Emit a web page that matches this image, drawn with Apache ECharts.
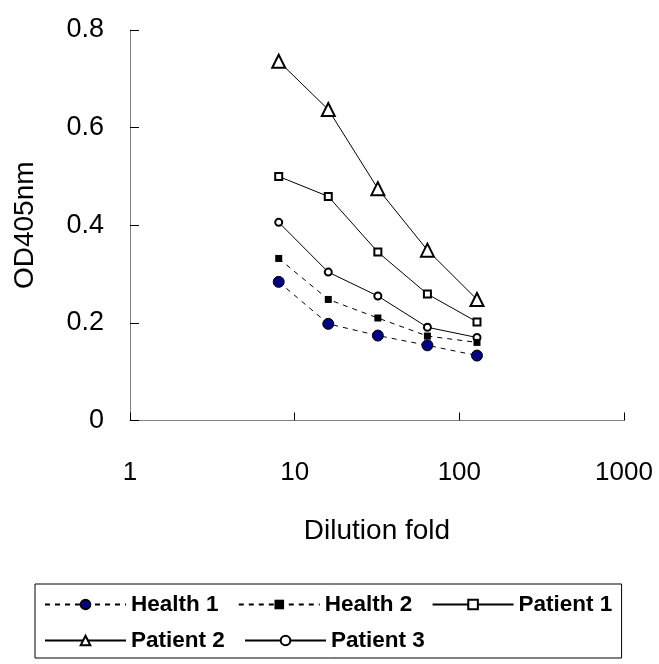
<!DOCTYPE html>
<html>
<head>
<meta charset="utf-8">
<script src="https://cdn.jsdelivr.net/npm/echarts@6/dist/echarts.min.js"></script>
<style>
html,body{margin:0;padding:0;background:#fff;}
#chart{width:659px;height:664px;}
</style>
</head>
<body>
<div id="chart"></div>
<script>
var dilution = [8, 16, 32, 64, 128];
var health1 = [0.284, 0.198, 0.174, 0.154, 0.133];
var health2 = [0.332, 0.248, 0.210, 0.173, 0.160];
var patient1 = [0.500, 0.459, 0.345, 0.259, 0.202];
var patient2 = [0.736, 0.637, 0.475, 0.349, 0.248];
var patient3 = [0.406, 0.304, 0.255, 0.191, 0.170];
var seriesNames = ['Health 1', 'Health 2', 'Patient 1', 'Patient 2', 'Patient 3'];
var xTicks = [1, 10, 100, 1000];
var yTicks = [0, 0.2, 0.4, 0.6, 0.8];

function pairs(ys) { return dilution.map(function (x, i) { return [x, ys[i]]; }); }

var FONT = '"Liberation Sans", Arial, sans-serif';
var chart = echarts.init(document.getElementById('chart'), null, {renderer: 'canvas'});

var dashed = {color: '#000', width: 1, type: [5, 5]};
var solid = {color: '#000', width: 1, type: 'solid'};

chart.setOption({
  backgroundColor: '#fff',
  animation: false,
  grid: {left: 130, right: 35, top: 30, bottom: 243.5, containLabel: false},
  xAxis: {
    type: 'log', logBase: 10, min: xTicks[0], max: xTicks[xTicks.length - 1],
    name: 'Dilution fold', nameLocation: 'middle', nameGap: 97,
    nameTextStyle: {fontFamily: FONT, fontSize: 28, color: '#000'},
    axisLine: {lineStyle: {color: '#808080', width: 1}},
    axisTick: {inside: true, length: 8, lineStyle: {color: '#000', width: 1}},
    minorTick: {show: false},
    splitLine: {show: false},
    axisLabel: {fontFamily: FONT, fontSize: 26, color: '#000', margin: 39,
      formatter: function (v) { return String(Math.round(v)); }}
  },
  yAxis: {
    type: 'value', min: yTicks[0], max: yTicks[yTicks.length - 1], interval: 0.2,
    name: 'OD405nm', nameLocation: 'middle', nameGap: 91, nameRotate: 90,
    nameTextStyle: {fontFamily: FONT, fontSize: 28, color: '#000'},
    axisLine: {show: true, lineStyle: {color: '#808080', width: 1}},
    axisTick: {show: true, inside: true, length: 9, lineStyle: {color: '#000', width: 1}},
    splitLine: {show: false},
    axisLabel: {fontFamily: FONT, fontSize: 27, color: '#000', margin: 26,
      formatter: function (v) { return String(Math.round(v * 10) / 10); }}
  },
  legend: {
    show: true,
    left: 35, top: 584, width: 600,
    orient: 'horizontal',
    padding: [9, 3, 6, 9],
    itemGap: 13,
    itemWidth: 81, itemHeight: 12,
    borderColor: '#000', borderWidth: 1, backgroundColor: '#fff',
    formatter: function (name) { return name + '\u00a0'; },
    textStyle: {fontFamily: FONT, fontSize: 22.5, fontWeight: 'bold', color: '#000'},
    data: seriesNames
  },
  series: [
    {name: seriesNames[0], type: 'line', data: pairs(health1), symbol: 'circle', symbolSize: 11,
      color: '#000080', itemStyle: {color: '#000080', borderColor: '#000', borderWidth: 1},
      lineStyle: dashed, z: 5},
    {name: seriesNames[1], type: 'line', data: pairs(health2), symbol: 'rect', symbolSize: 7,
      color: '#000', itemStyle: {color: '#000', borderColor: '#000', borderWidth: 0},
      lineStyle: dashed, z: 4},
    {name: seriesNames[2], type: 'line', data: pairs(patient1), symbol: 'emptyRect', symbolSize: 7,
      color: '#000', itemStyle: {color: '#000', borderColor: '#000', borderWidth: 1.2},
      lineStyle: solid, z: 3},
    {name: seriesNames[3], type: 'line', data: pairs(patient2), symbol: 'emptyTriangle', symbolSize: 13,
      color: '#000', itemStyle: {color: '#000', borderColor: '#000', borderWidth: 1.3},
      lineStyle: solid, z: 3},
    {name: seriesNames[4], type: 'line', data: pairs(patient3), symbol: 'emptyCircle', symbolSize: 7,
      color: '#000', itemStyle: {color: '#000', borderColor: '#000', borderWidth: 1.2},
      lineStyle: solid, z: 3}
  ]
});
</script>
</body>
</html>
